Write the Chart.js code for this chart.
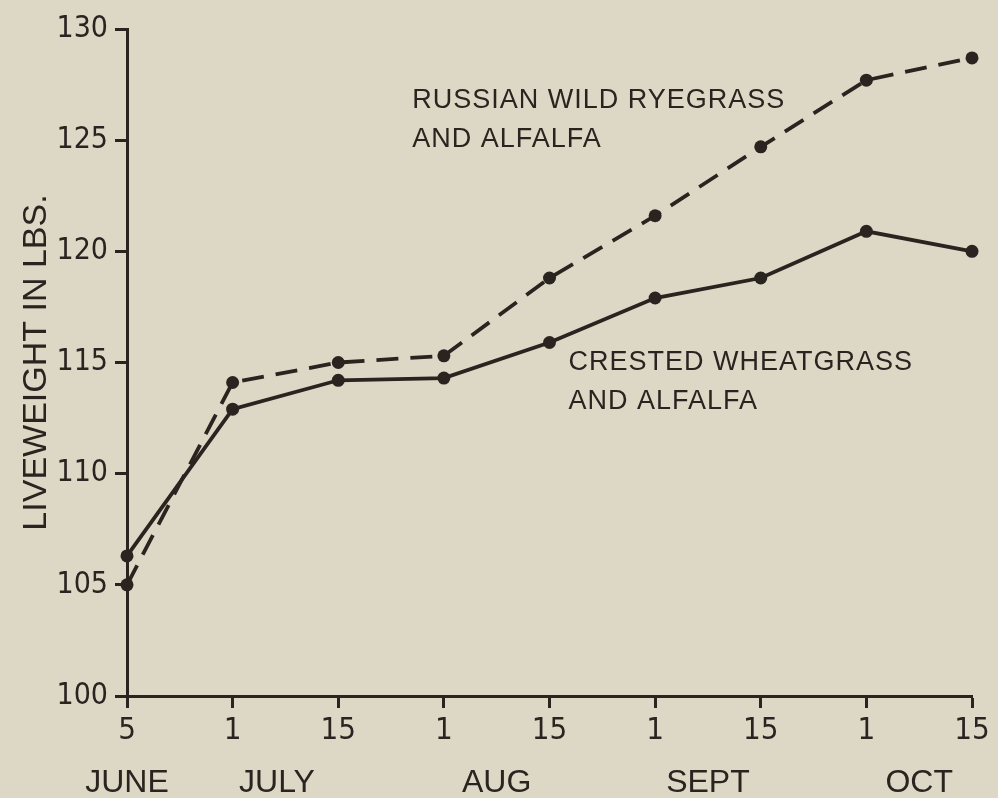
<!DOCTYPE html>
<html lang="en">
<head>
  <meta charset="UTF-8">
  <script src="https://cdn.jsdelivr.net/npm/chart.js"></script>
  <title>Liveweight</title>
  <style>
    body {
      margin: 0;
      padding: 0;
      background: #ddd8c5;
      overflow: hidden;
    }
    #chart {
      display: block;
    }
  </style>
</head>
<body>
  <canvas id="chart" width="998" height="798"></canvas>

  <script>
    // dates along the bottom (equal spacing in the original)
    const dayLabels = ['5', '1', '15', '1', '15', '1', '15', '1', '15'];
    const monthLabels = ['JUNE', 'JULY', 'AUG', 'SEPT', 'OCT'];
    const monthPos = [0, 1.42, 3.5, 5.5, 7.5];

    // liveweight in lbs
    const russianWild = [105.0, 114.1, 115.0, 115.3, 118.8, 121.6, 124.7, 127.7, 128.7];
    const crested = [106.3, 112.9, 114.2, 114.3, 115.9, 117.9, 118.8, 120.9, 120.0];

    const yTicks = [100, 105, 110, 115, 120, 125, 130];

    const ink = '#2a2420';
    const narrow = '"Liberation Sans Narrow", "DejaVu Sans Condensed", sans-serif';

    // line labels, anchored in data units
    const notes = [
      { lines: ['RUSSIAN WILD RYEGRASS', 'AND ALFALFA'], x: 2.70, y: 127.35 },
      { lines: ['CRESTED WHEATGRASS', 'AND ALFALFA'], x: 4.18, y: 115.57 }
    ];

    const textPlugin = {
      id: 'textPlugin',
      afterDraw(chart) {
        const ctx = chart.ctx;
        const xs = chart.scales.x;
        const ys = chart.scales.y;
        ctx.save();
        ctx.fillStyle = ink;
        ctx.textBaseline = 'alphabetic';

        ctx.font = '27px "Liberation Sans", Arial, sans-serif';
        ctx.letterSpacing = '1px';
        ctx.textAlign = 'left';
        notes.forEach(n => {
          const px = xs.getPixelForValue(n.x);
          const py = ys.getPixelForValue(n.y);
          n.lines.forEach((t, i) => {
            ctx.fillText(t, px, py + 20 + i * 39);
          });
        });

        ctx.font = '32px "Liberation Sans", Arial, sans-serif';
        ctx.letterSpacing = '0px';
        ctx.textAlign = 'center';
        monthLabels.forEach((m, i) => {
          ctx.fillText(m, xs.getPixelForValue(monthPos[i]), chart.chartArea.bottom + 96);
        });
        ctx.restore();
      }
    };

    new Chart(document.getElementById('chart'), {
      type: 'line',
      data: {
        labels: dayLabels,
        datasets: [
          {
            label: 'Russian wild ryegrass and alfalfa',
            data: russianWild,
            borderColor: ink,
            backgroundColor: ink,
            borderWidth: 3.8,
            borderDash: [22, 12],
            pointRadius: 6.5,
            pointBorderWidth: 0,
            pointBackgroundColor: ink,
            tension: 0,
            clip: false
          },
          {
            label: 'Crested wheatgrass and alfalfa',
            data: crested,
            borderColor: ink,
            backgroundColor: ink,
            borderWidth: 3.8,
            pointRadius: 6.5,
            pointBorderWidth: 0,
            pointBackgroundColor: ink,
            tension: 0,
            clip: false
          }
        ]
      },
      options: {
        responsive: false,
        animation: false,
        layout: { padding: { top: 29, right: 26, left: 0, bottom: 0 } },
        plugins: {
          legend: { display: false },
          tooltip: { enabled: false }
        },
        scales: {
          x: {
            type: 'category',
            offset: false,
            afterFit: s => { s.height = 102; },
            border: { display: true, color: ink, width: 3 },
            grid: {
              display: true,
              drawOnChartArea: false,
              drawTicks: true,
              tickLength: 12,
              tickWidth: 3,
              color: ink,
              offset: false
            },
            ticks: {
              color: ink,
              padding: 4,
              maxRotation: 0,
              autoSkip: false,
              font: { family: narrow, size: 31 }
            }
          },
          y: {
            min: 100,
            max: 130,
            afterFit: s => { s.width = 127; },
            afterBuildTicks: s => { s.ticks = yTicks.map(v => ({ value: v })); },
            border: { display: true, color: ink, width: 3 },
            grid: {
              display: true,
              drawOnChartArea: false,
              drawTicks: true,
              tickLength: 12,
              tickWidth: 3,
              color: ink
            },
            ticks: {
              color: ink,
              padding: 7,
              font: { family: narrow, size: 30 }
            },
            title: {
              display: true,
              text: 'LIVEWEIGHT IN LBS.',
              color: ink,
              padding: { top: 16, bottom: 0 },
              font: { family: '"Liberation Sans", Arial, sans-serif', size: 34 }
            }
          }
        }
      },
      plugins: [textPlugin]
    });
  </script>
</body>
</html>
